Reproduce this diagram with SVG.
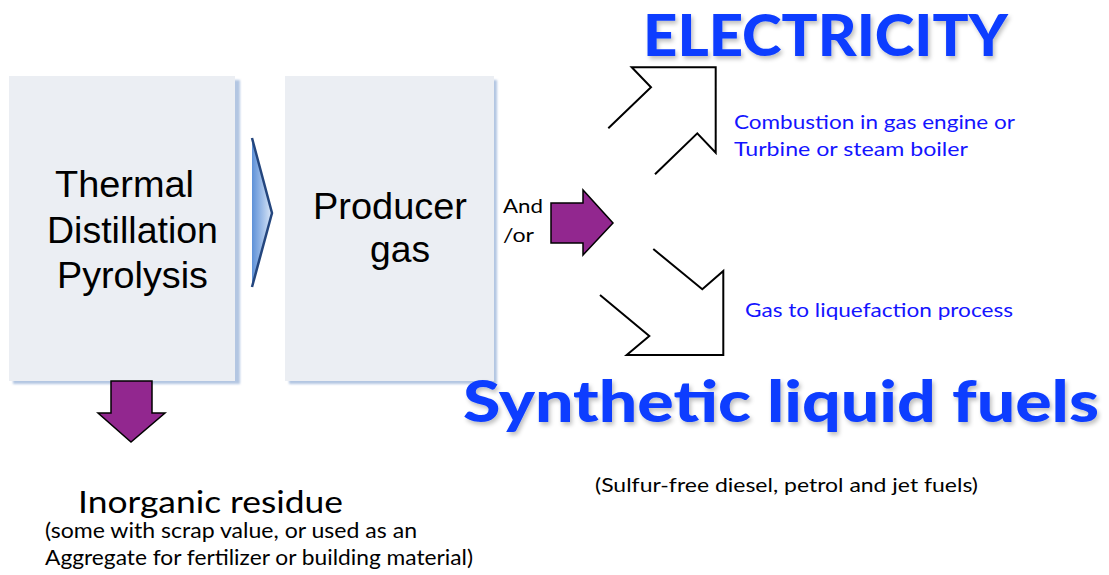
<svg xmlns="http://www.w3.org/2000/svg" width="1109" height="575" viewBox="0 0 1109 575">
<style>
.box{fill:#ebeef3}
.shadow{fill:#b3c6e2}
.big{font-family:Arial,"Liberation Sans",sans-serif;font-size:37px;fill:#000}
.cal{font-family:Lato,"Open Sans",sans-serif;fill:#000}
.blue{font-family:Lato,"Open Sans",sans-serif;fill:#1414ff;font-size:20px}
.head{font-family:Lato,"Open Sans",sans-serif;font-weight:900;fill:#0a3cff}
.purple{fill:#92278f;stroke:#000;stroke-width:1.5;stroke-linejoin:miter}
.bent{fill:none;stroke:#000;stroke-width:2;stroke-linejoin:miter}
</style>
<defs>
<linearGradient id="chev" x1="0" y1="0" x2="1" y2="0">
<stop offset="0" stop-color="#5e91d8"/>
<stop offset="1" stop-color="#dce8f8"/>
</linearGradient>
<filter id="blur" x="-10%" y="-10%" width="120%" height="120%"><feGaussianBlur stdDeviation="1.2"/></filter>
<filter id="ds" x="-5%" y="-20%" width="110%" height="150%">
<feGaussianBlur in="SourceAlpha" stdDeviation="2"/>
<feOffset dx="2" dy="3" result="o"/>
<feFlood flood-color="#000" flood-opacity="0.25"/>
<feComposite in2="o" operator="in"/>
<feMerge><feMergeNode/><feMergeNode in="SourceGraphic"/></feMerge>
</filter>
</defs>
<rect width="1109" height="575" fill="#fff"/>

<g id="node-thermal">
<rect class="shadow" x="13" y="80" width="227" height="304" filter="url(#blur)"/>
<rect class="box" x="9" y="76" width="226" height="305"/>
<text class="big" x="55" y="197" textLength="139" lengthAdjust="spacingAndGlyphs">Thermal</text>
<text class="big" x="47" y="243" textLength="171" lengthAdjust="spacingAndGlyphs">Distillation</text>
<text class="big" x="57" y="288" textLength="151" lengthAdjust="spacingAndGlyphs">Pyrolysis</text>
</g>

<g id="node-producer">
<rect class="shadow" x="289" y="80" width="208" height="304" filter="url(#blur)"/>
<rect class="box" x="285" y="76" width="209" height="305"/>
<text class="big" x="313" y="219" textLength="154" lengthAdjust="spacingAndGlyphs">Producer</text>
<text class="big" x="370" y="262" textLength="60" lengthAdjust="spacingAndGlyphs">gas</text>
</g>

<g id="node-andor">
<text class="cal" x="503" y="213" font-size="19" textLength="40" lengthAdjust="spacingAndGlyphs">And</text>
<text class="cal" x="503" y="242" font-size="19" textLength="31" lengthAdjust="spacingAndGlyphs">/or</text>
</g>

<g id="node-electricity">
<text class="head" x="643" y="56" font-size="58" textLength="365" lengthAdjust="spacingAndGlyphs" filter="url(#ds)">ELECTRICITY</text>
<text class="blue" x="734" y="129" textLength="281" lengthAdjust="spacingAndGlyphs">Combustion in gas engine or</text>
<text class="blue" x="734" y="156" textLength="234" lengthAdjust="spacingAndGlyphs">Turbine or steam boiler</text>
</g>

<g id="node-liquid">
<text class="blue" x="745" y="317" textLength="268" lengthAdjust="spacingAndGlyphs">Gas to liquefaction process</text>
<text class="head" x="463" y="422" font-size="57" textLength="636" lengthAdjust="spacingAndGlyphs" filter="url(#ds)">Synthetic liquid fuels</text>
<text class="cal" x="595" y="492" font-size="20" textLength="383" lengthAdjust="spacingAndGlyphs">(Sulfur-free diesel, petrol and jet fuels)</text>
</g>

<g id="node-residue">
<text class="cal" x="78" y="513" font-size="31" textLength="265" lengthAdjust="spacingAndGlyphs">Inorganic residue</text>
<text class="cal" x="45" y="538" font-size="21" textLength="372" lengthAdjust="spacingAndGlyphs">(some with scrap value, or used as an</text>
<text class="cal" x="45" y="565" font-size="21" textLength="428" lengthAdjust="spacingAndGlyphs">Aggregate for fertilizer or building material)</text>
</g>

<g id="connectors">
<polygon points="252,138 272,213 252,287" fill="url(#chev)"/>
<polyline points="252,138 272,213 252,287" fill="none" stroke="#24467e" stroke-width="2.5"/>
<polygon class="purple" points="551,203 583,203 583,190 613,223 583,255 583,243 551,243"/>
<polygon class="purple" points="111,381 152,381 152,413 165,413 131,442 98,413 111,413"/>
<polyline class="bent" points="608.3,128.3 651,87.3 631.7,67.3 715.7,67.3 715.7,152.7 697.3,133.3 655,174.3"/>
<polyline class="bent" points="653.3,249 702.3,289.3 723.3,271 723.3,355 626.7,355 649.3,336 600,295"/>
</g>
</svg>
